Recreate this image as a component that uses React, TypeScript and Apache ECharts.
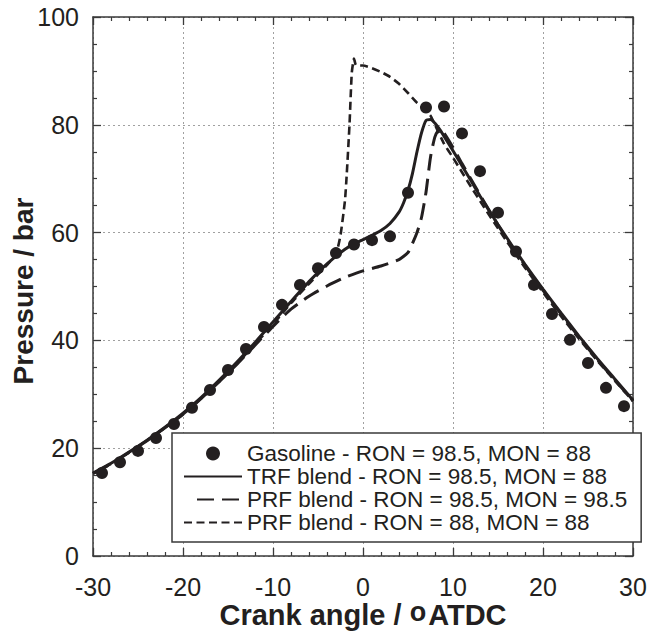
import React, { useEffect, useRef } from "react";
import * as echarts from "echarts";

const GAS_X = [-29, -27, -25, -23, -21, -19, -17, -15, -13, -11, -9, -7, -5, -3, -1, 1, 3, 5, 7, 9, 11, 13, 15, 17, 19, 21, 23, 25, 27, 29];
const GAS_Y = [15.4, 17.4, 19.5, 21.9, 24.5, 27.5, 30.8, 34.5, 38.4, 42.5, 46.6, 50.3, 53.4, 56.2, 57.8, 58.6, 59.3, 67.4, 83.2, 83.4, 78.4, 71.4, 63.7, 56.5, 50.3, 44.9, 40.1, 35.8, 31.2, 27.8];

const TRF_X = [-30, -28, -26, -24, -22, -20, -18, -16, -14, -12, -10, -8, -6, -4, -2, -1, 0, 1, 2, 3, 4, 4.5, 5, 5.5, 6, 6.5, 7, 7.5, 8, 8.5, 9, 10, 11, 12, 13, 14, 15, 16, 17, 18, 19, 20, 22, 24, 26, 28, 30];
const TRF_Y = [15.4, 17.2, 19.3, 21.5, 23.9, 26.5, 29.4, 32.6, 36.0, 39.6, 43.4, 47.2, 50.9, 54.2, 56.9, 57.9, 58.7, 59.5, 60.4, 61.7, 63.8, 65.5, 67.8, 71.0, 75.0, 78.5, 80.8, 81.0, 80.3, 79.2, 77.9, 75.2, 72.4, 69.6, 66.8, 64.1, 61.5, 59.0, 56.5, 54.1, 51.8, 49.5, 45.1, 40.8, 36.7, 32.8, 28.9];

const PRF985_X = [-30, -28, -26, -24, -22, -20, -18, -16, -14, -12, -10, -8, -6, -4, -2, 0, 2, 4, 5, 5.5, 6, 6.5, 7, 7.5, 8, 8.5, 9, 10, 11, 12, 13, 14, 15, 16, 17, 18, 19, 20, 22, 24, 26, 28, 30];
const PRF985_Y = [15.3, 17.1, 19.2, 21.4, 23.8, 26.3, 29.2, 32.3, 35.6, 39.1, 42.6, 45.8, 48.2, 50.1, 51.7, 52.9, 53.8, 55.0, 56.3, 58.0, 60.0, 62.8, 67.5, 74.0, 77.8, 79.2, 78.5, 75.8, 72.8, 69.9, 67.0, 64.2, 61.4, 58.8, 56.3, 53.9, 51.6, 49.3, 44.9, 40.6, 36.5, 32.6, 28.8];

const PRF88_X = [-30, -28, -26, -24, -22, -20, -18, -16, -14, -12, -10, -8, -6, -4, -3, -2.5, -2, -1.8, -1.5, -1.25, -1.0, -0.8, -0.3, 0, 1, 2, 3, 4, 5, 6, 7, 7.5, 8, 9, 10, 11, 12, 13, 14, 15, 16, 17, 18, 19, 20, 22, 24, 26, 28, 30];
const PRF88_Y = [15.3, 17.1, 19.2, 21.4, 23.8, 26.3, 29.2, 32.3, 35.7, 39.3, 43.0, 46.9, 50.5, 54.0, 56.0, 59.5, 66.0, 71.0, 80.0, 89.6, 92.3, 91.1, 91.0, 91.0, 90.5, 89.8, 88.9, 87.6, 85.9, 84.1, 82.6, 81.7, 80.0, 76.5, 73.9, 71.2, 68.5, 65.9, 63.3, 60.8, 58.3, 55.9, 53.5, 51.2, 48.9, 44.5, 40.3, 36.3, 32.5, 28.7];

const X_TICKS = { min: -30, max: 30, interval: 10 };
const Y_TICKS = { min: 0, max: 100, interval: 20 };

const LEGEND_NAMES = [
  "Gasoline - RON = 98.5, MON = 88",
  "TRF blend - RON = 98.5, MON = 88",
  "PRF blend - RON = 98.5, MON = 98.5",
  "PRF blend - RON = 88, MON = 88",
];

const pairs = (xs: number[], ys: number[]) => xs.map((x, i) => [x, ys[i]]);

const INK = "#231f20";
const AXIS = "#3a3a3a";
const FONT = "'Liberation Sans', Arial, Helvetica, sans-serif";

export default function App() {
  const ref = useRef<HTMLDivElement>(null);
  useEffect(() => {
    document.body.style.margin = "0";
    document.body.style.overflow = "hidden";
    if (!ref.current) return;
    const chart = echarts.init(ref.current, undefined, { renderer: "svg" });
    const axisLine = { show: true, onZero: false, lineStyle: { color: AXIS, width: 1.5 } };
    const axisTick = { show: true, inside: true, length: 8, lineStyle: { color: AXIS, width: 1.3 } };
    const minor = { show: true, length: 4, lineStyle: { color: AXIS, width: 1.2 } };
    const grid = { color: "#a0a0a0", type: [2, 3] as number[], width: 1 };
    const noSym = { itemStyle: { opacity: 0 } };
    chart.setOption({
      animation: false,
      backgroundColor: "#ffffff",
      textStyle: { fontFamily: FONT, color: INK },
      grid: { left: 93, right: 16, top: 17, bottom: 76, containLabel: false, outerBoundsMode: "none" },
      xAxis: [
        {
          type: "value",
          ...X_TICKS,
          position: "bottom",
          axisLine,
          axisTick,
          minorTick: { ...minor, splitNumber: 5 },
          splitLine: { show: true, lineStyle: grid },
          axisLabel: { fontSize: 25, color: INK, margin: 18, fontFamily: FONT },
          name: "Crank angle / {sup|o}ATDC",
          nameLocation: "middle",
          nameGap: 42,
          nameMoveOverlap: false,
          nameTextStyle: {
            fontSize: 29,
            fontWeight: "bold",
            color: INK,
            fontFamily: FONT,
            lineHeight: 34,
            rich: {
              sup: { fontSize: 27, fontWeight: "bold", color: INK, fontFamily: FONT, lineHeight: 22, verticalAlign: "top", padding: [0, 2, 0, 0] },
            },
          },
        },
        {
          type: "value",
          ...X_TICKS,
          position: "top",
          axisLine,
          axisTick,
          minorTick: { ...minor, splitNumber: 5 },
          splitLine: { show: false },
          axisLabel: { show: false },
        },
      ],
      yAxis: [
        {
          type: "value",
          ...Y_TICKS,
          position: "left",
          axisLine,
          axisTick,
          minorTick: { ...minor, splitNumber: 4 },
          splitLine: { show: true, lineStyle: grid },
          axisLabel: { fontSize: 25, color: INK, margin: 14, fontFamily: FONT },
          name: "Pressure / bar",
          nameLocation: "middle",
          nameGap: 56,
          nameMoveOverlap: false,
          nameTextStyle: { fontSize: 28, fontWeight: "bold", color: INK, fontFamily: FONT, padding: [0, 9, 0, 0] },
        },
        {
          type: "value",
          ...Y_TICKS,
          position: "right",
          axisLine,
          axisTick,
          minorTick: { ...minor, splitNumber: 4 },
          splitLine: { show: false },
          axisLabel: { show: false },
        },
      ],
      legend: {
        orient: "vertical",
        left: 172,
        top: 433,
        padding: [9, 14, 8, 11],
        itemGap: 0,
        itemWidth: 58,
        itemHeight: 14,
        borderColor: AXIS,
        borderWidth: 1.5,
        backgroundColor: "#ffffff",
        textStyle: { fontSize: 22.5, color: INK, fontFamily: FONT, lineHeight: 22.6 },
        data: [
          { name: LEGEND_NAMES[0] },
          { name: LEGEND_NAMES[1], ...noSym },
          { name: LEGEND_NAMES[2], ...noSym, lineStyle: { type: [0, 13, 17, 8, 17, 100] } },
          { name: LEGEND_NAMES[3], ...noSym },
        ],
      },
      series: [
        {
          name: LEGEND_NAMES[1],
          type: "line",
          data: pairs(TRF_X, TRF_Y),
          symbol: "none",
          smooth: 0.2,
          lineStyle: { color: INK, width: 3 },
          itemStyle: { color: INK },
          z: 3,
        },
        {
          name: LEGEND_NAMES[2],
          type: "line",
          data: pairs(PRF985_X, PRF985_Y),
          symbol: "none",
          smooth: 0.2,
          lineStyle: { color: INK, width: 3, type: [17, 8] },
          itemStyle: { color: INK },
          z: 3,
        },
        {
          name: LEGEND_NAMES[3],
          type: "line",
          data: pairs(PRF88_X, PRF88_Y),
          symbol: "none",
          smooth: 0.15,
          lineStyle: { color: INK, width: 2.6, type: [8, 4.5] },
          itemStyle: { color: INK },
          z: 3,
        },
        {
          name: LEGEND_NAMES[0],
          type: "scatter",
          data: pairs(GAS_X, GAS_Y),
          symbol: "circle",
          symbolSize: 12,
          itemStyle: { color: INK, opacity: 1 },
          z: 4,
        },
      ],
    });
    return () => chart.dispose();
  }, []);
  return <div ref={ref} style={{ width: 649, height: 632 }} />;
}
